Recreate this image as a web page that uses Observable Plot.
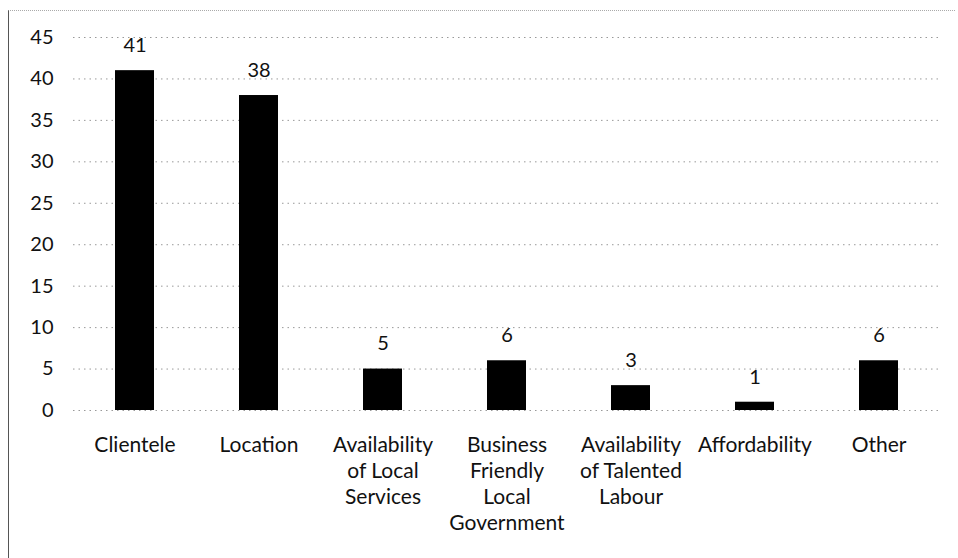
<!DOCTYPE html>
<html>
<head>
<meta charset="utf-8">
<script src="https://cdn.jsdelivr.net/npm/d3@7"></script>
<script src="https://cdn.jsdelivr.net/npm/@observablehq/plot@0.6"></script>
<style>
  html, body { margin: 0; padding: 0; background: #fff; }
  #frame { position: absolute; left: 8px; top: 10px; width: 946px; height: 548px;
           border-left: 1px solid #555; border-top: 1px dotted #aaa; }
  #chart { position: absolute; left: 0; top: 0; }
</style>
</head>
<body>
<div id="frame"></div>
<div id="chart"></div>
<script>
const categories = ["Clientele", "Location", "Availability\nof Local\nServices", "Business\nFriendly\nLocal\nGovernment", "Availability\nof Talented\nLabour", "Affordability", "Other"];
const values = [41, 38, 5, 6, 3, 1, 6];
const yTicks = [0, 5, 10, 15, 20, 25, 30, 35, 40, 45];

const data = categories.map((c, i) => ({category: c, value: values[i]}));
const font = "Lato, 'Open Sans', sans-serif";

const chart = Plot.plot({
  width: 958,
  height: 558,
  marginLeft: 73,
  marginRight: 17,
  marginTop: 37,
  marginBottom: 148,
  style: {fontFamily: font, fontSize: "20px", color: "#111", background: "transparent"},
  x: {domain: categories, paddingInner: 0.685, paddingOuter: 0.3425, label: null},
  y: {domain: [0, 45], label: null},
  marks: [
    Plot.ruleY(yTicks, {stroke: "#999", strokeDasharray: "1.5,4", strokeWidth: 1}),
    Plot.barY(data, {x: "category", y: "value", fill: "#000"}),
    Plot.text(data, {x: "category", y: "value", text: d => String(d.value), dy: -25, fontSize: 20, fill: "#111"}),
    Plot.axisY({ticks: yTicks, tickSize: 0, tickPadding: 20, fontSize: 20, label: null}),
    Plot.axisX({tickSize: 0, tickPadding: 23, fontSize: 21, lineHeight: 1.24, label: null, textAnchor: "middle"})
  ]
});
document.getElementById("chart").appendChild(chart);
</script>
</body>
</html>
